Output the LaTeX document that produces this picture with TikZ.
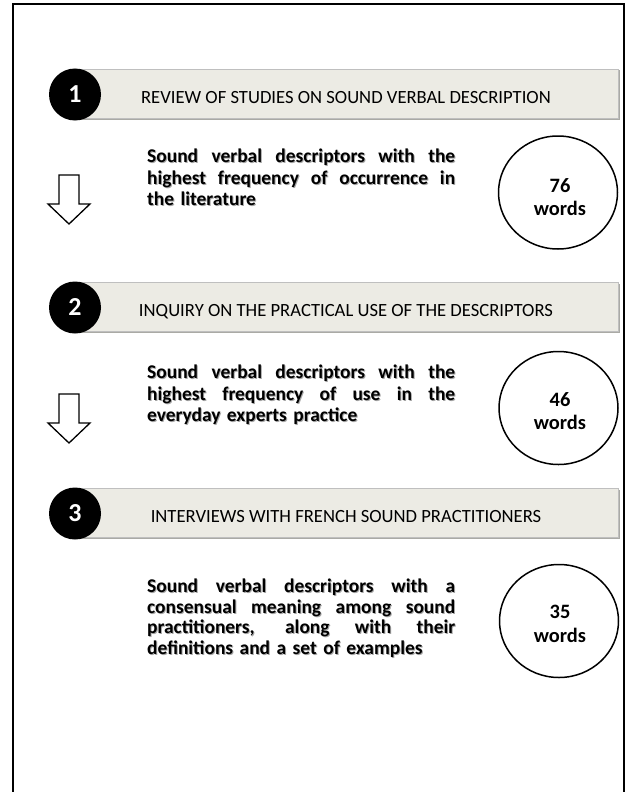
\documentclass[tikz,border=0pt]{standalone}
\usepackage{fontspec}
\setmainfont{Carlito}
\usetikzlibrary{shapes.geometric}
\definecolor{bannerfill}{RGB}{236,235,228}
\definecolor{bannershadow}{RGB}{170,170,165}
\newcommand{\jl}[1]{\makebox[308bp][s]{\spaceskip=\fontdimen2\font plus 1fill\relax #1}}
\begin{document}
\begin{tikzpicture}[x=1bp,y=-1bp,
  frame/.style={line width=1.8bp,black},
  banner/.style={fill=bannerfill,draw=black!25,line width=0.4bp},
  bshadow/.style={fill=bannershadow,draw=none},
  numcirc/.style={circle,fill=black,minimum size=52bp,inner sep=0,text=white,font=\fontsize{26}{30}\selectfont\bfseries},
  btitle/.style={inner sep=0,anchor=base,font=\fontsize{18.7}{22}\selectfont},
  para/.style={anchor=north west,inner sep=0,text width=308bp,align=left,font=\fontsize{19.5}{22}\selectfont\bfseries},
  tshadow/.style={text=black!35},
  count/.style={ellipse,draw=black,line width=1.5bp,minimum width=119bp,minimum height=113bp,inner sep=0},
  cnt/.style={inner sep=0,align=center,font=\fontsize{20.5}{23.5}\selectfont\bfseries},
  blockarrow/.style={draw=black,line width=1.3bp,fill=white,line join=miter}
]
\useasboundingbox (0,0) rectangle (629,792);
% frame
\draw[frame] (12.7,792) -- (12.7,4.3) -- (624,4.3) -- (624,792);

% ---------- banners ----------
\foreach \T in {69,282,488}{
  \fill[bshadow] (76,\T+1.5) rectangle (619.5,\T+50.5);
  \filldraw[banner] (75,\T) rectangle (618,\T+49);
}
\node[numcirc] (n1) at (75,94.5) {1};
\node[numcirc] (n2) at (75,307.5) {2};
\node[numcirc] (n3) at (75,513.5) {3};
\node[btitle] (t1) at (346,103) {REVIEW OF STUDIES ON SOUND VERBAL DESCRIPTION};
\node[btitle] (t2) at (346,316) {INQUIRY ON THE PRACTICAL USE OF THE DESCRIPTORS};
\node[btitle] (t3) at (346,522) {INTERVIEWS WITH FRENCH SOUND PRACTITIONERS};

% ---------- paragraphs ----------
\node[para,tshadow] (p1s) at (148,162-15.4+1) {\strut\jl{Sound verbal descriptors with the}\\\jl{highest frequency of occurrence in}\\the literature};
\node[para] (p1) at (147,162-15.4) {\strut\jl{Sound verbal descriptors with the}\\\jl{highest frequency of occurrence in}\\the literature};

\node[para,tshadow] (p2s) at (148,378-15.4+1) {\strut\jl{Sound verbal descriptors with the}\\\jl{highest frequency of use in the}\\everyday experts practice};
\node[para] (p2) at (147,378-15.4) {\strut\jl{Sound verbal descriptors with the}\\\jl{highest frequency of use in the}\\everyday experts practice};

\node[para,tshadow,font=\fontsize{19.5}{21}\selectfont\bfseries] (p3s) at (148,592-14.7+1) {\strut\jl{Sound verbal descriptors with a}\\\jl{consensual meaning among sound}\\\jl{practitioners, along with their}\\definitions and a set of examples};
\node[para,font=\fontsize{19.5}{21}\selectfont\bfseries] (p3) at (147,592-14.7) {\strut\jl{Sound verbal descriptors with a}\\\jl{consensual meaning among sound}\\\jl{practitioners, along with their}\\definitions and a set of examples};

% ---------- count ellipses ----------
\node[count] (e1) at (558,192.5) {};
\node[count] (e2) at (558.5,408) {};
\node[count] (e3) at (559,621) {};
\node[cnt] (c1) at (560,197) {76\\words};
\node[cnt] (c2) at (560,411) {46\\words};
\node[cnt] (c3) at (560,624) {35\\words};

% ---------- hollow down arrows ----------
\foreach \top in {175,394}{
  \draw[blockarrow] (59,\top) -- (79,\top) -- (79,\top+29) -- (90,\top+29)
     -- (69,\top+49) -- (48,\top+29) -- (59,\top+29) -- cycle;
}
\end{tikzpicture}
\end{document}
